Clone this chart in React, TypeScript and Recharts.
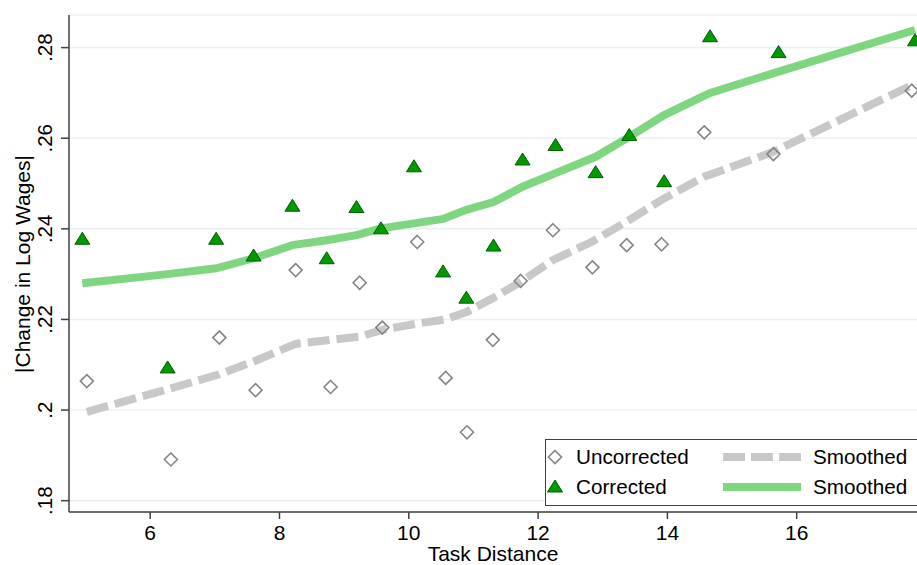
import { ComposedChart, Scatter, Line, XAxis, YAxis, CartesianGrid } from 'recharts'

// binned task distance (x) and |change in log wages| (y)
const uncorrectedX = [5.02, 6.32, 7.07, 7.63, 8.25, 8.79, 9.24, 9.59, 10.13, 10.57, 10.9, 11.3, 11.73, 12.23, 12.84, 13.37, 13.91, 14.57, 15.64, 17.78]
const uncorrectedY = [0.2064, 0.1891, 0.216, 0.2044, 0.2309, 0.2051, 0.2281, 0.2182, 0.2371, 0.2071, 0.1951, 0.2155, 0.2285, 0.2397, 0.2315, 0.2364, 0.2366, 0.2613, 0.2565, 0.2705]
const uncorrectedSmooth = [0.1996, 0.2048, 0.2079, 0.2109, 0.2146, 0.2155, 0.2162, 0.2177, 0.2191, 0.22, 0.2217, 0.2247, 0.2283, 0.2331, 0.2372, 0.2416, 0.2464, 0.2515, 0.257, 0.2717]

const correctedX = [4.95, 6.27, 7.02, 7.6, 8.2, 8.73, 9.19, 9.57, 10.08, 10.53, 10.89, 11.31, 11.76, 12.27, 12.89, 13.41, 13.95, 14.66, 15.72, 17.83]
const correctedY = [0.2377, 0.2093, 0.2377, 0.234, 0.245, 0.2334, 0.2447, 0.24, 0.2537, 0.2305, 0.2247, 0.2362, 0.2552, 0.2584, 0.2524, 0.2606, 0.2504, 0.2824, 0.2789, 0.2815]
const correctedSmooth = [0.228, 0.23, 0.2313, 0.2335, 0.2364, 0.2375, 0.2386, 0.2401, 0.2412, 0.2422, 0.2442, 0.2459, 0.2493, 0.2523, 0.2559, 0.2603, 0.2651, 0.27, 0.2747, 0.2839]

const xTicks = [6, 8, 10, 12, 14, 16]
const yTicks = [0.18, 0.2, 0.22, 0.24, 0.26, 0.28]
const yTickLabels = ['.18', '.2', '.22', '.24', '.26', '.28']

const FONT = 'Arial, "Liberation Sans", sans-serif'
const GREEN_LINE = '#80d680'
const GRAY_LINE = '#c8c8c8'

const toPoints = (xs: number[], ys: number[]) => xs.map((x, i) => ({ x, y: ys[i] }))

const Diamond = ({ cx, cy }: any) => (
  <path
    d={`M${cx},${cy - 6.5} L${cx + 6.5},${cy} L${cx},${cy + 6.5} L${cx - 6.5},${cy} Z`}
    fill="none"
    stroke="#858585"
    strokeWidth={1.6}
  />
)

const Triangle = ({ cx, cy }: any) => (
  <path
    d={`M${cx},${cy - 7} L${cx + 7.5},${cy + 5} L${cx - 7.5},${cy + 5} Z`}
    fill="#009a00"
    stroke="#005c00"
    strokeWidth={1}
  />
)

const YTick = ({ y, payload }: any) => {
  const idx = yTicks.indexOf(payload.value)
  return (
    <text
      x={45}
      y={y}
      transform={`rotate(-90, 45, ${y})`}
      textAnchor="middle"
      dominantBaseline="central"
      fontSize={20.5}
      fontFamily={FONT}
      fill="#000"
    >
      {idx >= 0 ? yTickLabels[idx] : payload.value}
    </text>
  )
}

const XLabel = () => (
  <text x={493} y={561} textAnchor="middle" fontSize={21} fontFamily={FONT} fill="#000">
    Task Distance
  </text>
)

const YLabel = () => (
  <text
    x={22}
    y={264}
    transform="rotate(-90, 22, 264)"
    textAnchor="middle"
    dominantBaseline="central"
    fontSize={21}
    fontFamily={FONT}
    fill="#000"
  >
    |Change in Log Wages|
  </text>
)

export default function App() {
  return (
    <div style={{ position: 'absolute', left: 0, top: 0, width: 917, height: 565, overflow: 'hidden', background: '#fff' }}>
      <ComposedChart width={917} height={565} margin={{ top: 15, right: 0, bottom: 0, left: 0 }}>
        <CartesianGrid vertical={false} stroke="#eaf0f1" strokeWidth={1.5} />
        <XAxis
          type="number"
          dataKey="x"
          domain={[4.744, 17.861]}
          allowDataOverflow
          ticks={xTicks}
          height={53}
          tickSize={7}
          tickMargin={6}
          stroke="#404040"
          strokeWidth={1.5}
          tick={{ fontSize: 21, fontFamily: FONT, fill: '#000' }}
          label={{ content: <XLabel /> }}
        />
        <YAxis
          type="number"
          dataKey="y"
          domain={[0.1775, 0.2872]}
          allowDataOverflow
          ticks={yTicks}
          width={69}
          tickSize={8}
          stroke="#404040"
          strokeWidth={1.5}
          tick={<YTick />}
          label={{ content: <YLabel /> }}
        />

        <Line
          data={toPoints(uncorrectedX, uncorrectedSmooth)}
          dataKey="y"
          type="linear"
          stroke={GRAY_LINE}
          strokeWidth={8}
          strokeDasharray="22 7"
          dot={false}
          activeDot={false}
          isAnimationActive={false}
        />
        <Line
          data={toPoints(correctedX, correctedSmooth)}
          dataKey="y"
          type="linear"
          stroke={GREEN_LINE}
          strokeWidth={8}
          dot={false}
          activeDot={false}
          isAnimationActive={false}
        />
        <Scatter data={toPoints(uncorrectedX, uncorrectedY)} dataKey="y" shape={<Diamond />} isAnimationActive={false} />
        <Scatter data={toPoints(correctedX, correctedY)} dataKey="y" shape={<Triangle />} isAnimationActive={false} />
      </ComposedChart>

      {/* Legend */}
      <div
        style={{
          position: 'absolute',
          left: 545,
          top: 439,
          width: 380,
          height: 67,
          border: '1.5px solid #404040',
          background: '#fff',
          boxSizing: 'border-box',
          fontFamily: FONT,
          fontSize: 20.7,
          color: '#000',
        }}
      >
        <svg width={380} height={67} style={{ position: 'absolute', left: 0, top: 0 }}>
          <Diamond cx={9} cy={17} />
          <Triangle cx={9} cy={47} />
          <line x1={177} y1={17} x2={255} y2={17} stroke={GRAY_LINE} strokeWidth={8} strokeDasharray="22 6" />
          <line x1={177} y1={47} x2={255} y2={47} stroke={GREEN_LINE} strokeWidth={8} />
        </svg>
        <span style={{ position: 'absolute', left: 30, top: 5, lineHeight: '24px' }}>Uncorrected</span>
        <span style={{ position: 'absolute', left: 30, top: 35, lineHeight: '24px' }}>Corrected</span>
        <span style={{ position: 'absolute', left: 267, top: 5, lineHeight: '24px' }}>Smoothed</span>
        <span style={{ position: 'absolute', left: 267, top: 35, lineHeight: '24px' }}>Smoothed</span>
      </div>
    </div>
  )
}
